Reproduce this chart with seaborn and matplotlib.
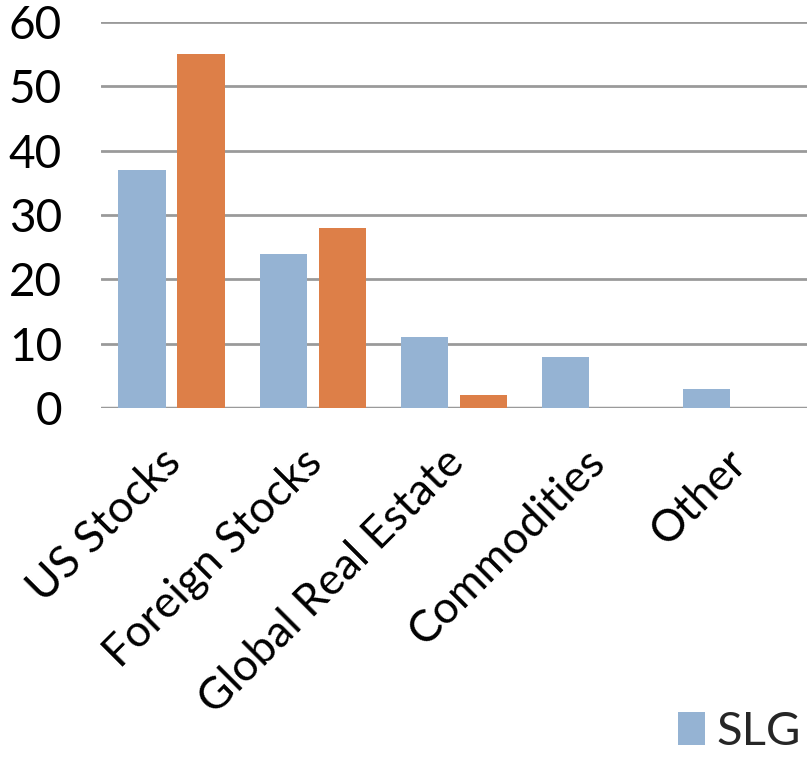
import matplotlib
matplotlib.use("Agg")
import matplotlib.pyplot as plt
from matplotlib.patches import Patch
from matplotlib.transforms import ScaledTranslation
import seaborn as sns
import pandas as pd

categories = ["US Stocks", "Foreign Stocks", "Global Real Estate", "Commodities", "Other"]
slg_values = [37, 24, 11, 8, 3]
comparison_values = [55, 28, 2, 0, 0]
series_names = ["SLG", "Comparison"]
y_ticks = [0, 10, 20, 30, 40, 50, 60]

blue = "#95B3D3"
orange = "#DD7F48"

df = pd.DataFrame({
    "category": categories * 2,
    "value": slg_values + comparison_values,
    "series": [series_names[0]] * len(categories) + [series_names[1]] * len(categories),
})

sns.set_theme(style="white")
plt.rcParams["font.family"] = ["Lato", "DejaVu Sans"]

fig = plt.figure(figsize=(8.07, 7.64), dpi=100)
ax = fig.add_axes([0.125, 0.466, 0.875, 0.505])

sns.barplot(data=df, x="category", y="value", hue="series", order=categories,
            hue_order=series_names, palette=[blue, orange], width=0.836, gap=0.2,
            saturation=1, legend=False, ax=ax, linewidth=0)

ax.set_ylim(0, 60)
ax.set_xlim(-0.5, len(categories) - 0.5)
ax.set_yticks(y_ticks)
ax.yaxis.grid(True, color="#9a9a9a", linewidth=2)
ax.set_axisbelow(True)
for s in ax.spines.values():
    s.set_visible(False)
ax.axhline(0, color="#9a9a9a", linewidth=2.5, zorder=0.5)

ax.set_xlabel("")
ax.set_ylabel("")
ax.tick_params(axis="y", length=0, pad=28, labelsize=33, labelcolor="black")
ax.tick_params(axis="x", length=0, pad=24, labelsize=32, labelcolor="black")
ax.set_xticks(range(len(categories)))
ax.set_xticklabels(categories, rotation=45, ha="right", va="top", rotation_mode="anchor")
shift = ScaledTranslation(-8 / 72, 0, fig.dpi_scale_trans)
for lbl in ax.get_xticklabels():
    lbl.set_transform(lbl.get_transform() + shift)

fig.legend(handles=[Patch(facecolor=blue, edgecolor="none", label=series_names[0])],
           loc="lower right", bbox_to_anchor=(1.025, -0.02), frameon=False,
           fontsize=34, handlelength=0.58, handleheight=0.7, handletextpad=0.25,
           borderaxespad=0.15)

fig.savefig("out.png", dpi=100)
